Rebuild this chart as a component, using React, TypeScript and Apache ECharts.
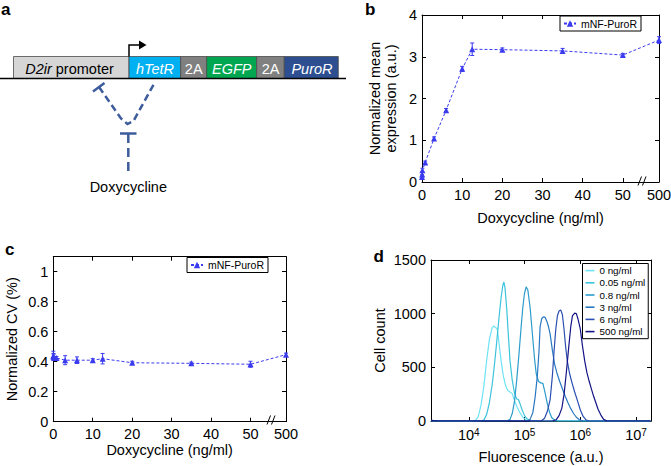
import React, { useEffect, useRef } from 'react';
import * as echarts from 'echarts';

const FONT = '"Liberation Sans", Arial, Helvetica, sans-serif';

// Panel b / c data
const doxConc = [0, 0.05, 0.1, 0.8, 3, 6, 10, 12.5, 20, 35, 50, 500];
const meanExpr = [0.12, 0.18, 0.28, 0.47, 1.04, 1.72, 2.71, 3.18, 3.17, 3.14, 3.04, 3.4];
const meanErr = [0.05, 0.05, 0.05, 0.03, 0.04, 0.04, 0.06, 0.15, 0.04, 0.06, 0.04, 0.08];
const cvValues = [0.44, 0.435, 0.43, 0.425, 0.41, 0.41, 0.41, 0.42, 0.393, 0.389, 0.383, 0.447];
const cvErr = [0.03, 0.02, 0.02, 0.01, 0.03, 0.022, 0.01, 0.035, 0.01, 0.008, 0.02, 0.01];
const BREAK_POS = 59; // where 500 ng/ml sits on the broken axis
const mapDox = (d: number) => (d >= 500 ? BREAK_POS : d);

// Panel d histograms: [log10 fluorescence, cell count]
const histNames = ['0 ng/ml', '0.05 ng/ml', '0.8 ng/ml', '3 ng/ml', '6 ng/ml', '500 ng/ml'];
const histColors = ['#6fe3f5', '#3ec3dc', '#2b9ccc', '#2a78c0', '#2a4fb0', '#141486'];
const hist0 = [[3.33,4],[3.6,0],[4.05,0],[4.12,6],[4.17,40],[4.22,150],[4.27,320],[4.32,560],[4.37,760],[4.42,870],[4.45,885],[4.48,870],[4.51,860],[4.54,740],[4.58,560],[4.62,420],[4.66,330],[4.7,285],[4.74,270],[4.78,255],[4.82,190],[4.87,125],[4.92,75],[4.97,35],[5.03,8],[5.1,0],[7.26,0]];
const hist005 = [[3.33,2],[4.2,0],[4.27,8],[4.32,60],[4.37,170],[4.42,340],[4.46,520],[4.5,730],[4.54,950],[4.58,1150],[4.61,1260],[4.63,1295],[4.65,1240],[4.68,1050],[4.71,800],[4.74,560],[4.78,380],[4.82,260],[4.86,205],[4.89,200],[4.92,160],[4.96,100],[5.0,50],[5.05,18],[5.12,0],[7.26,0]];
const hist08 = [[3.33,3],[4.68,0],[4.74,15],[4.78,70],[4.82,180],[4.86,380],[4.9,620],[4.94,880],[4.97,1060],[5.0,1190],[5.03,1250],[5.06,1220],[5.1,1060],[5.14,820],[5.18,580],[5.21,440],[5.25,370],[5.29,355],[5.33,350],[5.37,260],[5.41,160],[5.45,80],[5.49,30],[5.55,5],[5.6,0],[7.26,0]];
const hist3 = [[3.33,2],[5.05,0],[5.1,15],[5.15,80],[5.19,220],[5.23,420],[5.26,650],[5.28,880],[5.31,955],[5.34,970],[5.37,965],[5.4,930],[5.43,880],[5.46,810],[5.5,660],[5.54,530],[5.58,450],[5.63,370],[5.68,300],[5.73,230],[5.78,170],[5.83,115],[5.88,70],[5.93,35],[5.99,10],[6.05,0],[7.26,0]];
const hist6 = [[3.33,2],[5.3,0],[5.36,25],[5.41,90],[5.46,200],[5.5,420],[5.53,650],[5.56,850],[5.59,980],[5.62,1025],[5.65,1035],[5.68,990],[5.71,850],[5.74,680],[5.77,550],[5.81,440],[5.85,360],[5.9,270],[5.95,190],[6.0,105],[6.05,45],[6.1,12],[6.16,0],[7.26,0]];
const hist500 = [[3.33,8],[3.36,4],[3.45,0],[5.5,0],[5.57,12],[5.62,50],[5.67,120],[5.71,250],[5.75,450],[5.79,670],[5.83,880],[5.86,980],[5.9,1005],[5.93,1000],[5.96,950],[6.0,860],[6.04,700],[6.08,560],[6.12,450],[6.16,370],[6.2,300],[6.24,230],[6.28,170],[6.32,110],[6.37,55],[6.42,15],[6.48,0],[7.26,0]];
const histData = [hist0, hist005, hist08, hist3, hist6, hist500];

const bTicks = { min: 0, max: 4, interval: 1 };
const cTicks = { min: 0, max: 1.1, interval: 0.2 };
const dTicks = { min: 0, max: 1500, interval: 500 };

const LINE_BLUE = '#3b3bef';
const INHIB = '#3c5c9c';

const axisLine = { show: true, onZero: false, lineStyle: { color: '#000', width: 1 } };
const axisTick = { show: true, inside: true, length: 4, lineStyle: { color: '#000', width: 1 } };
const labelStyle = { color: '#000', fontSize: 14.5, fontFamily: FONT, margin: 5 };
const nameStyle = { color: '#000', fontSize: 14.5, fontFamily: FONT, lineHeight: 15.5 };

function errRender(params: any, api: any) {
  const x = api.value(0);
  const y = api.value(1);
  const e = api.value(2);
  const top = api.coord([x, y + e]);
  const bot = api.coord([x, y - e]);
  const st = { stroke: LINE_BLUE, lineWidth: 1 };
  return {
    type: 'group',
    children: [
      { type: 'line', shape: { x1: top[0], y1: top[1], x2: bot[0], y2: bot[1] }, style: st },
      { type: 'line', shape: { x1: top[0] - 2, y1: top[1], x2: top[0] + 2, y2: top[1] }, style: st },
      { type: 'line', shape: { x1: bot[0] - 2, y1: bot[1], x2: bot[0] + 2, y2: bot[1] }, style: st },
    ],
  };
}

const doxFormatter = (v: number) => (v > 55 ? '500' : String(v));
const powFormatter = (v: number) => {
  const e = Math.log10(v);
  const r = Math.round(e);
  return Math.abs(e - r) < 1e-6 ? '10{e|' + r + '}' : '';
};

function diagram(): any[] {
  const boxY = 56.5;
  const boxH = 22;
  const boxes = [
    { x: 13.5, w: 115.5, fill: '#d6d6d6' },
    { x: 129, w: 51.7, fill: '#00b0f0' },
    { x: 180.7, w: 26, fill: '#808080' },
    { x: 206.7, w: 50, fill: '#00a650' },
    { x: 256.7, w: 27.6, fill: '#808080' },
    { x: 284.3, w: 54, fill: '#2d4f91' },
  ];
  const els: any[] = boxes.map((b) => ({
    type: 'rect',
    shape: { x: b.x, y: boxY, width: b.w, height: boxH },
    style: { fill: b.fill, stroke: '#4a4a4a', lineWidth: 0.8 },
  }));
  els.push({ type: 'line', shape: { x1: 0, y1: 78.5, x2: 346, y2: 78.5 }, style: { stroke: '#000', lineWidth: 1.5 } });
  const t = (text: string, x: number, fill: string, italic: boolean) => ({
    type: 'text',
    x,
    y: 68.5,
    style: { text, fill, font: (italic ? 'italic ' : '') + '14.5px ' + FONT, align: 'center', verticalAlign: 'middle' },
  });
  els.push({
    type: 'text',
    x: 69.5,
    y: 68.5,
    style: {
      text: '{i|D2ir} promoter',
      fill: '#000',
      fontSize: 14.5,
      fontFamily: FONT,
      align: 'center',
      verticalAlign: 'middle',
      rich: { i: { fontStyle: 'italic', fontSize: 14.5, fontFamily: FONT, fill: '#000' } },
    },
  });
  els.push(t('hTetR', 155, '#fff', true));
  els.push(t('2A', 193.7, '#fff', false));
  els.push(t('EGFP', 231.7, '#fff', true));
  els.push(t('2A', 270.5, '#fff', false));
  els.push(t('PuroR', 312, '#fff', true));
  // promoter arrow
  els.push({ type: 'polyline', shape: { points: [[129, 56.5], [129, 45], [140, 45]] }, style: { stroke: '#000', lineWidth: 1.5, fill: 'none' } });
  els.push({ type: 'polygon', shape: { points: [[139, 40.5], [146.5, 45], [139, 49.5]] }, style: { fill: '#000' } });
  // inhibition lines
  const ds = { stroke: INHIB, lineWidth: 2.5, lineDash: [7, 4], fill: 'none' };
  els.push({ type: 'polyline', shape: { points: [[99, 87], [121, 118.5], [127.5, 124], [133.5, 121], [155, 82]] }, style: ds });
  els.push({ type: 'line', shape: { x1: 93, y1: 91.5, x2: 104.5, y2: 83 }, style: { stroke: INHIB, lineWidth: 2.5 } });
  els.push({ type: 'line', shape: { x1: 120, y1: 133.5, x2: 136.5, y2: 133.5 }, style: { stroke: INHIB, lineWidth: 2.5 } });
  els.push({ type: 'line', shape: { x1: 128.3, y1: 134, x2: 128.3, y2: 173.5 }, style: { stroke: INHIB, lineWidth: 2.5, lineDash: [9, 5] } });
  els.push({
    type: 'text',
    x: 128.3,
    y: 187,
    style: { text: 'Doxycycline', fill: '#000', font: '14.5px ' + FONT, align: 'center', verticalAlign: 'middle' },
  });
  return els;
}

function panelLetter(text: string, x: number, y: number) {
  return { type: 'text', x, y, style: { text, fill: '#000', font: 'bold 17px ' + FONT, align: 'left', verticalAlign: 'middle' } };
}

function breakMark(x: number, y: number) {
  return [
    { type: 'line', shape: { x1: x - 4, y1: y + 4.5, x2: x - 0.5, y2: y - 4.5 }, style: { stroke: '#000', lineWidth: 1 } },
    { type: 'line', shape: { x1: x + 0.5, y1: y + 4.5, x2: x + 4, y2: y - 4.5 }, style: { stroke: '#000', lineWidth: 1 } },
  ];
}

function buildOption(): any {
  const bLine = doxConc.map((d, i) => [mapDox(d), meanExpr[i]]);
  const bErr = doxConc.map((d, i) => [mapDox(d), meanExpr[i], meanErr[i]]);
  const cLine = doxConc.map((d, i) => [mapDox(d), cvValues[i]]);
  const cErr = doxConc.map((d, i) => [mapDox(d), cvValues[i], cvErr[i]]);

  const legendCommon = {
    selectedMode: false,
    backgroundColor: '#fff',
    borderColor: '#000',
    borderWidth: 1,
    borderRadius: 0,
  };

  const doxX = (gridIndex: number, top: boolean) => ({
    type: 'value',
    gridIndex,
    position: top ? 'top' : 'bottom',
    min: 0,
    max: BREAK_POS,
    interval: 10,
    axisLine,
    axisTick,
    splitLine: { show: false },
    axisLabel: top ? { show: false } : { ...labelStyle, formatter: doxFormatter, showMaxLabel: true, showMinLabel: true },
    name: top ? '' : 'Doxycycline (ng/ml)',
    nameLocation: 'middle',
    nameGap: gridIndex === 0 ? 28.5 : 18,
    nameTextStyle: nameStyle,
  });

  const logX = (top: boolean) => ({
    type: 'log',
    logBase: 10,
    gridIndex: 2,
    position: top ? 'top' : 'bottom',
    min: 2100,
    max: 1.86e7,
    axisLine,
    axisTick,
    splitLine: { show: false },
    axisLabel: top
      ? { show: false }
      : {
          ...labelStyle,
          margin: 6,
          formatter: powFormatter,
          rich: { e: { fontSize: 10, fontFamily: FONT, color: '#000', verticalAlign: 'top', padding: [0, 0, 6, 0] } },
        },
    name: top ? '' : 'Fluorescence (a.u.)',
    nameLocation: 'middle',
    nameGap: 28.5,
    nameTextStyle: nameStyle,
  });

  const plainFmt = (v: number) => String(+v.toFixed(1));

  const yAx = (gridIndex: number, ticks: any, right: boolean, name: string, gap: number, fmt: any) => ({
    type: 'value',
    gridIndex,
    position: right ? 'right' : 'left',
    ...ticks,
    axisLine,
    axisTick,
    splitLine: { show: false },
    axisLabel: right ? { show: false } : { ...labelStyle, formatter: fmt },
    name: right ? '' : name,
    nameLocation: 'middle',
    nameGap: gap,
    nameTextStyle: nameStyle,
  });

  const lineSeries = (xi: number, yi: number, data: number[][]) => ({
    type: 'line',
    name: 'mNF-PuroR',
    xAxisIndex: xi,
    yAxisIndex: yi,
    data,
    symbol: 'triangle',
    symbolSize: 6,
    showSymbol: true,
    itemStyle: { color: LINE_BLUE },
    lineStyle: { color: LINE_BLUE, width: 1, type: [3, 2] },
    z: 3,
  });

  const errSeries = (xi: number, yi: number, data: number[][]) => ({
    type: 'custom',
    xAxisIndex: xi,
    yAxisIndex: yi,
    data,
    encode: { x: 0, y: 1 },
    renderItem: errRender,
    z: 4,
  });

  const histSeries = histData.map((h, i) => ({
    type: 'line',
    name: histNames[i],
    xAxisIndex: 4,
    yAxisIndex: 4,
    data: h.map(([e, c]) => [Math.pow(10, e), c]),
    symbol: 'none',
    showSymbol: false,
    itemStyle: { color: histColors[i] },
    lineStyle: { color: histColors[i], width: 1.2 },
    z: 2 + i,
  }));

  return {
    animation: false,
    backgroundColor: '#fff',
    textStyle: { fontFamily: FONT },
    grid: [
      { left: 422, top: 15, width: 237, height: 167, outerBoundsMode: 'none', containLabel: false },
      { left: 53.3, top: 256.7, width: 232.7, height: 165, outerBoundsMode: 'none', containLabel: false },
      { left: 431, top: 260, width: 220, height: 161, outerBoundsMode: 'none', containLabel: false },
    ],
    xAxis: [doxX(0, false), doxX(0, true), doxX(1, false), doxX(1, true), logX(false), logX(true)],
    yAxis: [
      yAx(0, bTicks, false, 'Normalized mean\nexpression (a.u.)', 23.5, plainFmt),
      yAx(0, bTicks, true, '', 0, plainFmt),
      yAx(1, cTicks, false, 'Normalized CV (%)', 34, (v: number) => (v > 1.05 ? '' : plainFmt(v))),
      yAx(1, cTicks, true, '', 0, plainFmt),
      yAx(2, dTicks, false, 'Cell count', 43, (v: number) => String(Math.round(v))),
      yAx(2, dTicks, true, '', 0, plainFmt),
    ],
    legend: [
      {
        ...legendCommon,
        data: ['mNF-PuroR'],
        left: 560,
        top: 16,
        padding: [2, 4, 2, 3],
        itemWidth: 12,
        itemHeight: 8,
        textStyle: { fontSize: 10.5, fontFamily: FONT, color: '#000' },
      },
      {
        ...legendCommon,
        data: ['mNF-PuroR'],
        left: 187,
        top: 257.5,
        padding: [2, 4, 2, 3],
        itemWidth: 12,
        itemHeight: 8,
        textStyle: { fontSize: 10.5, fontFamily: FONT, color: '#000' },
      },
      {
        ...legendCommon,
        data: histNames.map((n) => ({ name: n, icon: 'rect' })),
        orient: 'vertical',
        left: 582.5,
        top: 263.5,
        padding: [1, 3, 1, 3],
        itemGap: 0,
        itemWidth: 9,
        itemHeight: 1.6,
        textStyle: { fontSize: 9.8, lineHeight: 12.2, fontFamily: FONT, color: '#000' },
      },
    ],
    series: [
      lineSeries(0, 0, bLine),
      errSeries(0, 0, bErr),
      lineSeries(2, 2, cLine),
      errSeries(2, 2, cErr),
      ...histSeries,
    ],
    graphic: [
      ...diagram(),
      panelLetter('a', 1, 9.5),
      panelLetter('b', 365, 9.5),
      panelLetter('c', 5, 249.5),
      panelLetter('d', 373.5, 256),
      ...breakMark(642, 181),
      ...breakMark(271, 420),
    ],
  };
}

export default function App() {
  const ref = useRef<HTMLDivElement>(null);
  useEffect(() => {
    document.body.style.margin = '0';
    if (!ref.current) return;
    const chart = echarts.init(ref.current, undefined, { renderer: 'svg' });
    chart.setOption(buildOption());
    return () => chart.dispose();
  }, []);
  return <div ref={ref} style={{ position: 'absolute', left: 0, top: 0, width: 671, height: 466, background: '#fff' }} />;
}
